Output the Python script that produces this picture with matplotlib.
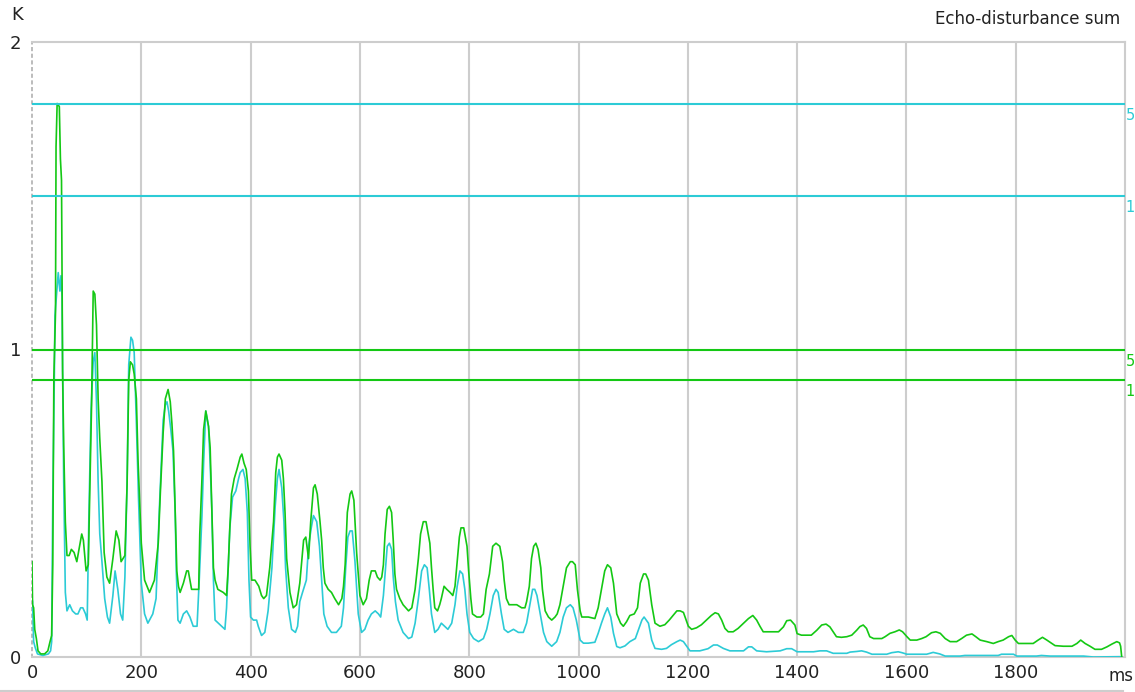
import matplotlib
matplotlib.use("Agg")
import matplotlib.pyplot as plt
from matplotlib.lines import Line2D

# Echo-disturbance sum K over time (ms), two channels
green_t = [0, 1, 3, 5, 8, 11, 16, 23, 29, 33, 36, 38, 40, 43, 44, 46, 50, 52, 54, 56, 58, 61, 64, 68,
           72, 77, 82, 87, 91, 94, 99, 103, 106, 109, 112, 115, 118, 121, 124, 128, 132, 137, 142, 148,
           154, 159, 163, 170, 174, 177, 180, 184, 187, 191, 194, 200, 206, 215, 224, 231, 235, 240, 244,
           249, 253, 256, 259, 262, 265, 268, 271, 277, 283, 286, 292, 305, 307, 311, 314, 318, 323, 326,
           329, 332, 335, 340, 350, 356, 359, 362, 365, 370, 375, 381, 384, 388, 392, 396, 399, 402, 408,
           415, 420, 424, 429, 435, 442, 446, 449, 452, 457, 460, 463, 466, 472, 478, 484, 490, 497, 501,
           506, 510, 515, 518, 522, 527, 530, 533, 536, 542, 548, 554, 561, 567, 570, 573, 577, 582, 585,
           589, 594, 600, 606, 612, 617, 621, 628, 632, 637, 640, 643, 646, 650, 654, 658, 661, 664, 667,
           673, 679, 689, 695, 701, 707, 711, 716, 721, 725, 728, 731, 734, 737, 742, 746, 749, 754, 759,
           765, 770, 774, 778, 782, 785, 790, 796, 799, 803, 806, 814, 821, 826, 831, 837, 843, 849, 856,
           861, 864, 868, 873, 879, 887, 896, 902, 905, 910, 914, 918, 922, 926, 931, 934, 939, 945, 951,
           957, 961, 966, 972, 978, 985, 989, 994, 998, 1003, 1006, 1018, 1030, 1036, 1042, 1048, 1053,
           1059, 1064, 1070, 1077, 1082, 1088, 1094, 1102, 1108, 1113, 1119, 1123, 1128, 1134, 1140, 1149,
           1158, 1166, 1173, 1180, 1186, 1192, 1197, 1201, 1207, 1216, 1225, 1234, 1243, 1250, 1256, 1262,
           1268, 1274, 1283, 1292, 1302, 1311, 1319, 1326, 1332, 1338, 1347, 1356, 1366, 1375, 1381, 1388,
           1396, 1400, 1408, 1417, 1426, 1436, 1445, 1453, 1460, 1466, 1472, 1481, 1491, 1500, 1509, 1515,
           1521, 1527, 1533, 1540, 1555, 1561, 1570, 1579, 1587, 1593, 1601, 1607, 1619, 1628, 1636, 1646,
           1654, 1662, 1671, 1680, 1692, 1701, 1710, 1720, 1727, 1735, 1747, 1759, 1768, 1777, 1787, 1793,
           1799, 1805, 1820, 1832, 1841, 1849, 1857, 1866, 1872, 1887, 1903, 1912, 1919, 1927, 1936, 1945,
           1957, 1967, 1976, 1985, 1990, 1992, 1994]
green_k = [0.31, 0.17, 0.16, 0.09, 0.06, 0.02, 0.01, 0.01, 0.02, 0.05, 0.07, 0.30, 0.91, 1.12, 1.66, 1.80,
           1.79, 1.62, 1.55, 0.93, 0.69, 0.44, 0.33, 0.33, 0.35, 0.34, 0.31, 0.36, 0.40, 0.38, 0.28, 0.30,
           0.56, 0.82, 1.19, 1.18, 1.08, 0.84, 0.71, 0.57, 0.34, 0.26, 0.24, 0.32, 0.41, 0.38, 0.31, 0.33,
           0.56, 0.90, 0.96, 0.95, 0.92, 0.84, 0.64, 0.37, 0.25, 0.21, 0.25, 0.37, 0.54, 0.73, 0.84, 0.87,
           0.83, 0.76, 0.67, 0.47, 0.28, 0.23, 0.21, 0.24, 0.28, 0.28, 0.22, 0.22, 0.40, 0.58, 0.74, 0.80,
           0.75, 0.68, 0.48, 0.29, 0.25, 0.22, 0.21, 0.20, 0.29, 0.42, 0.53, 0.58, 0.61, 0.65, 0.66, 0.63,
           0.61, 0.54, 0.36, 0.25, 0.25, 0.23, 0.20, 0.19, 0.20, 0.29, 0.44, 0.60, 0.65, 0.66, 0.64, 0.58,
           0.47, 0.32, 0.21, 0.16, 0.17, 0.24, 0.38, 0.39, 0.32, 0.44, 0.55, 0.56, 0.53, 0.44, 0.38, 0.29,
           0.24, 0.22, 0.21, 0.19, 0.17, 0.19, 0.23, 0.30, 0.47, 0.53, 0.54, 0.51, 0.34, 0.20, 0.17, 0.19,
           0.25, 0.28, 0.28, 0.26, 0.25, 0.26, 0.30, 0.40, 0.48, 0.49, 0.47, 0.38, 0.27, 0.22, 0.19, 0.17,
           0.15, 0.16, 0.22, 0.32, 0.40, 0.44, 0.44, 0.40, 0.37, 0.29, 0.22, 0.16, 0.15, 0.17, 0.19, 0.23,
           0.22, 0.21, 0.20, 0.23, 0.31, 0.39, 0.42, 0.42, 0.36, 0.28, 0.19, 0.14, 0.13, 0.13, 0.14, 0.22,
           0.27, 0.36, 0.37, 0.36, 0.31, 0.25, 0.19, 0.17, 0.17, 0.17, 0.16, 0.16, 0.18, 0.23, 0.32, 0.36,
           0.37, 0.35, 0.29, 0.22, 0.15, 0.13, 0.12, 0.13, 0.14, 0.17, 0.23, 0.29, 0.31, 0.31, 0.30, 0.22,
           0.15, 0.13, 0.13, 0.125, 0.16, 0.22, 0.28, 0.30, 0.29, 0.24, 0.14, 0.11, 0.10, 0.115, 0.135,
           0.14, 0.16, 0.24, 0.27, 0.27, 0.25, 0.17, 0.11, 0.10, 0.105, 0.12, 0.135, 0.15, 0.15, 0.145,
           0.12, 0.10, 0.09, 0.095, 0.105, 0.12, 0.135, 0.144, 0.14, 0.12, 0.093, 0.082, 0.082, 0.093,
           0.11, 0.125, 0.135, 0.12, 0.10, 0.082, 0.082, 0.082, 0.082, 0.098, 0.118, 0.12, 0.104, 0.076,
           0.071, 0.071, 0.071, 0.087, 0.104, 0.107, 0.098, 0.082, 0.066, 0.064, 0.066, 0.071, 0.087,
           0.099, 0.104, 0.093, 0.066, 0.06, 0.06, 0.066, 0.077, 0.082, 0.088, 0.082, 0.066, 0.055, 0.055,
           0.06, 0.066, 0.079, 0.082, 0.077, 0.06, 0.05, 0.05, 0.06, 0.071, 0.075, 0.066, 0.055, 0.05,
           0.044, 0.05, 0.055, 0.066, 0.07, 0.055, 0.044, 0.044, 0.044, 0.055, 0.064, 0.055, 0.044, 0.037,
           0.035, 0.035, 0.044, 0.055, 0.044, 0.035, 0.025, 0.025, 0.033, 0.042, 0.05, 0.046, 0.035, 0.0]

cyan_t = [0, 1, 3, 6, 10, 20, 30, 34, 36, 38, 41, 42, 45, 48, 51, 53, 55, 56, 58, 61, 64, 69, 74, 80, 84,
          89, 93, 98, 101, 104, 108, 112, 115, 118, 121, 124, 128, 133, 138, 142, 148, 152, 157, 162,
          166, 170, 174, 177, 181, 184, 187, 191, 195, 200, 206, 212, 221, 227, 233, 240, 244, 247, 250,
          254, 258, 262, 264, 267, 271, 277, 283, 289, 295, 302, 306, 311, 314, 318, 323, 326, 329, 332,
          335, 341, 347, 353, 356, 359, 362, 367, 373, 378, 381, 386, 390, 394, 397, 400, 405, 411, 414,
          420, 426, 432, 439, 445, 449, 452, 457, 461, 464, 469, 475, 482, 486, 490, 495, 502, 506, 511,
          515, 521, 526, 530, 534, 540, 548, 557, 566, 570, 574, 578, 582, 586, 591, 597, 603, 609, 615,
          621, 628, 634, 638, 643, 650, 654, 658, 661, 665, 670, 679, 689, 695, 701, 707, 713, 718, 723,
          727, 731, 737, 743, 749, 755, 761, 768, 774, 778, 783, 788, 792, 796, 801, 808, 817, 826, 832,
          838, 844, 849, 853, 859, 864, 871, 881, 890, 899, 905, 911, 916, 920, 924, 930, 936, 942, 951,
          960, 966, 972, 978, 985, 990, 996, 1003, 1009, 1018, 1030, 1036, 1042, 1048, 1053, 1059, 1064,
          1070, 1076, 1085, 1094, 1104, 1110, 1116, 1120, 1128, 1134, 1140, 1152, 1161, 1170, 1180, 1186,
          1192, 1198, 1204, 1222, 1237, 1247, 1254, 1265, 1277, 1302, 1311, 1317, 1326, 1344, 1369, 1381,
          1390, 1400, 1430, 1442, 1454, 1466, 1491, 1497, 1509, 1518, 1527, 1537, 1564, 1573, 1585, 1592,
          1601, 1637, 1649, 1661, 1671, 1698, 1707, 1719, 1768, 1774, 1796, 1802, 1838, 1847, 1863, 1924,
          1942, 1990, 1994]
cyan_k = [0.19, 0.18, 0.05, 0.03, 0.01, 0.005, 0.01, 0.02, 0.05, 0.51, 0.93, 1.11, 1.18, 1.25, 1.19, 1.24,
          1.17, 0.93, 0.57, 0.21, 0.15, 0.17, 0.15, 0.14, 0.14, 0.16, 0.16, 0.14, 0.12, 0.45, 0.80, 0.96,
          0.99, 0.83, 0.57, 0.40, 0.31, 0.19, 0.13, 0.11, 0.20, 0.28, 0.22, 0.14, 0.12, 0.26, 0.57, 0.95,
          1.04, 1.03, 0.99, 0.76, 0.51, 0.24, 0.14, 0.11, 0.14, 0.19, 0.48, 0.77, 0.82, 0.83, 0.80, 0.74,
          0.67, 0.47, 0.28, 0.12, 0.11, 0.14, 0.15, 0.13, 0.10, 0.10, 0.25, 0.46, 0.63, 0.80, 0.75, 0.63,
          0.48, 0.25, 0.12, 0.11, 0.10, 0.09, 0.16, 0.29, 0.42, 0.52, 0.54, 0.58, 0.60, 0.61, 0.58, 0.47,
          0.25, 0.13, 0.12, 0.12, 0.10, 0.07, 0.08, 0.15, 0.29, 0.49, 0.58, 0.61, 0.55, 0.44, 0.29, 0.16,
          0.09, 0.08, 0.10, 0.18, 0.21, 0.25, 0.36, 0.42, 0.46, 0.44, 0.36, 0.25, 0.14, 0.10, 0.08, 0.08,
          0.10, 0.16, 0.29, 0.39, 0.41, 0.41, 0.31, 0.14, 0.08, 0.09, 0.12, 0.14, 0.15, 0.14, 0.13, 0.20,
          0.36, 0.37, 0.35, 0.26, 0.18, 0.12, 0.08, 0.06, 0.065, 0.11, 0.19, 0.28, 0.30, 0.29, 0.22, 0.14,
          0.08, 0.09, 0.11, 0.10, 0.09, 0.11, 0.17, 0.23, 0.28, 0.27, 0.22, 0.14, 0.08, 0.06, 0.05, 0.06,
          0.09, 0.14, 0.20, 0.22, 0.21, 0.14, 0.09, 0.08, 0.09, 0.08, 0.08, 0.11, 0.17, 0.22, 0.22, 0.20,
          0.14, 0.08, 0.05, 0.035, 0.05, 0.08, 0.13, 0.16, 0.17, 0.16, 0.12, 0.055, 0.045, 0.045, 0.048,
          0.077, 0.11, 0.14, 0.16, 0.13, 0.077, 0.034, 0.030, 0.036, 0.05, 0.06, 0.09, 0.12, 0.13, 0.11,
          0.055, 0.028, 0.025, 0.028, 0.04, 0.05, 0.055, 0.05, 0.035, 0.02, 0.02, 0.027, 0.039, 0.039,
          0.028, 0.02, 0.02, 0.033, 0.033, 0.02, 0.017, 0.02, 0.027, 0.027, 0.017, 0.017, 0.02, 0.02,
          0.012, 0.012, 0.016, 0.018, 0.02, 0.016, 0.009, 0.009, 0.014, 0.017, 0.014, 0.009, 0.009, 0.015,
          0.01, 0.003, 0.003, 0.005, 0.005, 0.005, 0.009, 0.009, 0.003, 0.003, 0.005, 0.003, 0.003, 0.0,
          0.001, 0.0]

# limit lines: (value, colour, label)
limits = [(1.8, "cyan", "5"), (1.5, "cyan", "1"), (1.0, "green", "5"), (0.9, "green", "1")]

x_ticks = [0, 200, 400, 600, 800, 1000, 1200, 1400, 1600, 1800]
y_ticks = [0, 1, 2]

GREEN = "#14c814"
CYAN = "#2ccbd6"
GRID = "#cdcdcd"
colors = {"green": GREEN, "cyan": CYAN}

W, H = 1135, 692
fig = plt.figure(figsize=(W / 100, H / 100), dpi=100)
ax = fig.add_axes([32 / W, (H - 657) / H, (1125 - 32) / W, (657 - 42) / H])
ax.set_xlim(0, 2000)
ax.set_ylim(0, 2)

for x in x_ticks[1:]:
    ax.axvline(x, color=GRID, lw=1.5, zorder=1)

ax.plot(cyan_t, cyan_k, color=CYAN, lw=1.2, zorder=3)
ax.plot(green_t, green_k, color=GREEN, lw=1.2, zorder=4)

for val, c, lab in limits:
    ax.axhline(val, color=colors[c], lw=1.5, zorder=5)
    ax.annotate(lab, xy=(1.0, val), xycoords=("axes fraction", "data"),
                xytext=(0.5, -3), textcoords="offset points", ha="left", va="top",
                color=colors[c], fontsize=10.5, annotation_clip=False)

for side in ["top", "right", "bottom"]:
    ax.spines[side].set_color(GRID)
    ax.spines[side].set_linewidth(1.5)
ax.spines["left"].set_color("#b0b0b0")
ax.spines["left"].set_linestyle((0, (1.5, 2.5)))
ax.spines["left"].set_linewidth(1.2)

ax.set_xticks(x_ticks)
ax.set_yticks(y_ticks)
ax.tick_params(length=0, labelsize=13, colors="#222222", pad=5)
ax.tick_params(axis="y", pad=8)

fig.text(17 / W, 1 - 15 / H, "K", fontsize=13, color="#222222", ha="center", va="center")
fig.text(1133 / W, 1 - 676 / H, "ms", fontsize=12, color="#222222", ha="right", va="center")
fig.text(1120 / W, 1 - 19 / H, "Echo-disturbance sum", fontsize=12, color="#222222",
         ha="right", va="center")

fig.add_artist(Line2D([0, 1123 / W], [1 - 691 / H] * 2, color=GRID, lw=1.5))

fig.savefig("out.png", dpi=100)
